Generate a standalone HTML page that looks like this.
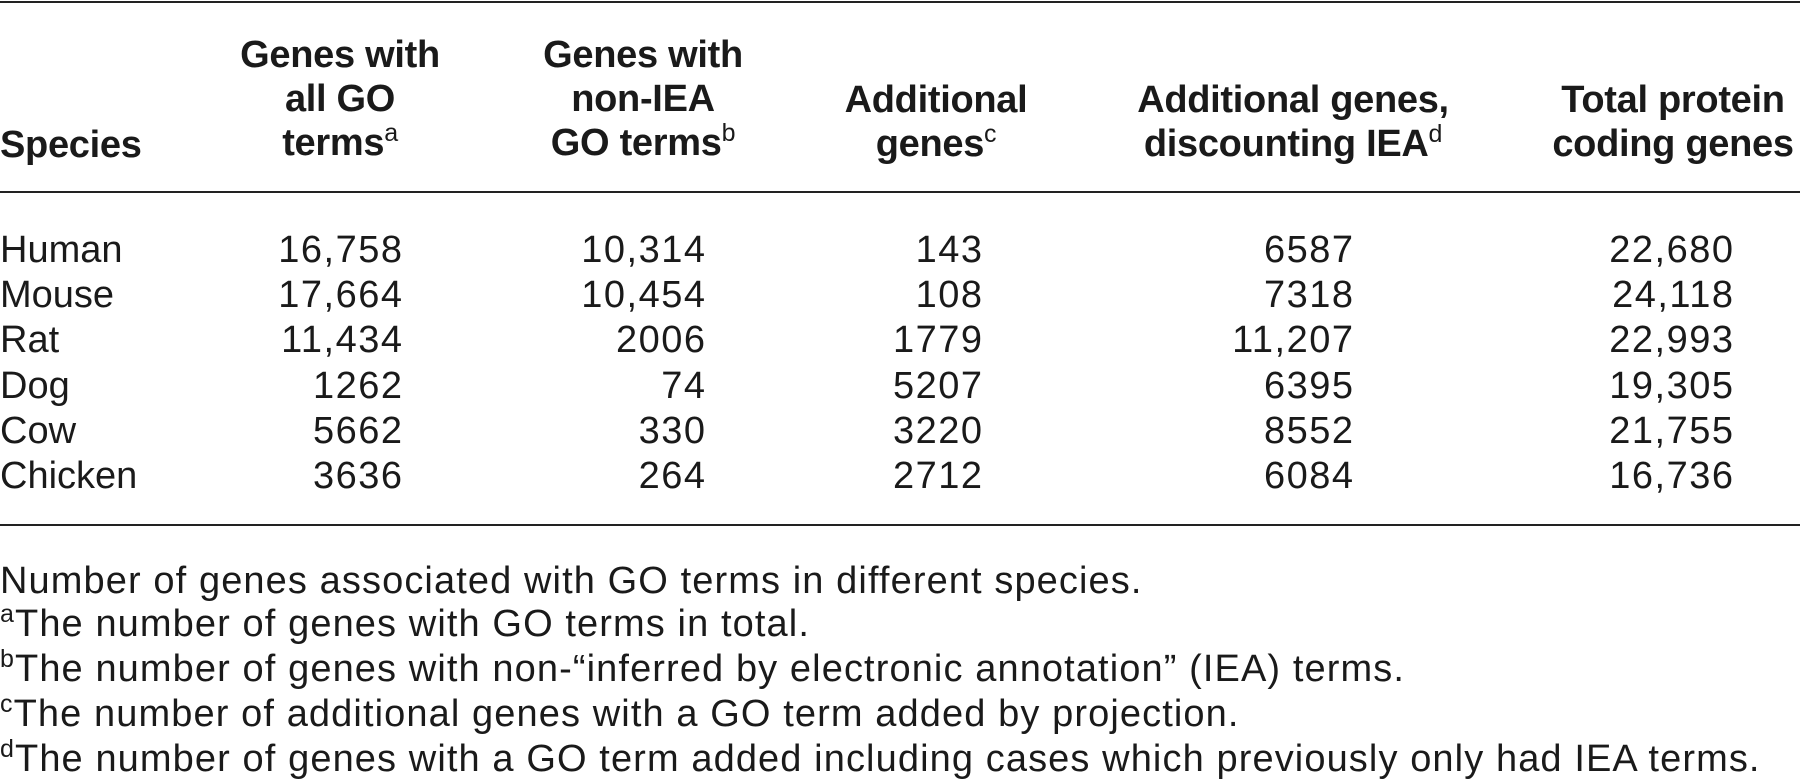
<!DOCTYPE html>
<html><head><meta charset="utf-8"><style>
html,body{margin:0;padding:0;background:#fff;}
#root{position:relative;width:1800px;height:784px;overflow:hidden;font-family:"Liberation Sans",sans-serif;color:#1a1a1a;}
.t{position:absolute;font-size:38px;line-height:44px;white-space:nowrap;}
.h{font-weight:bold;letter-spacing:-0.3px;}
.c{transform:translateX(-50%);text-align:center;}
.r{transform:translateX(-100%);text-align:right;}
.d{letter-spacing:1.5px;margin-left:1.5px;}
.rule{position:absolute;left:0;width:1800px;height:2px;background:#222;}
sup{font-size:25px;line-height:0;vertical-align:14px;font-weight:normal;}
.f{font-size:38px;letter-spacing:1.1px;}
</style></head><body>
<div id="root">
<div class="rule" style="top:1px"></div>
<div class="rule" style="top:191px"></div>
<div class="rule" style="top:524px"></div>

<div class="t h" style="left:0;top:123px">Species</div>
<div class="t h c" style="left:340px;top:33px">Genes with<br>all GO<br>terms<sup>a</sup></div>
<div class="t h c" style="left:643px;top:33px">Genes with<br>non-IEA<br>GO terms<sup>b</sup></div>
<div class="t h c" style="left:936px;top:78px">Additional<br>genes<sup>c</sup></div>
<div class="t h c" style="left:1293px;top:78px">Additional genes,<br>discounting IEA<sup>d</sup></div>
<div class="t h c" style="left:1673px;top:78px">Total protein<br>coding genes</div>

<div class="t f" style="left:0;top:559px">Number of genes associated with GO terms in different species.</div>
<div class="t f" style="left:0;top:602px"><sup>a</sup>The number of genes with GO terms in total.</div>
<div class="t f" style="left:0;top:647px"><sup>b</sup>The number of genes with non-“inferred by electronic annotation” (IEA) terms.</div>
<div class="t f" style="left:0;top:692px"><sup>c</sup>The number of additional genes with a GO term added by projection.</div>
<div class="t f" style="left:0;top:737px"><sup>d</sup>The number of genes with a GO term added including cases which previously only had IEA terms.</div>
</div>
<script>
const species=["Human","Mouse","Rat","Dog","Cow","Chicken"];
const allGo=["16,758","17,664","11,434","1262","5662","3636"];
const nonIea=["10,314","10,454","2006","74","330","264"];
const additional=["143","108","1779","5207","3220","2712"];
const additionalDisc=["6587","7318","11,207","6395","8552","6084"];
const totalGenes=["22,680","24,118","22,993","19,305","21,755","16,736"];
const root=document.getElementById('root');
const cols=[[allGo,402,'all-go'],[nonIea,705,'non-iea'],[additional,982,'additional'],[additionalDisc,1353,'additional-discounting'],[totalGenes,1733,'total']];
species.forEach((s,i)=>{
  const top=228+i*45.2;
  const d=document.createElement('div');
  d.className='t';d.style.left='0px';d.style.top=top+'px';d.textContent=s;
  
  
  root.appendChild(d);
  cols.forEach(([arr,x,n])=>{
    const e=document.createElement('div');
    e.className='t r d';e.style.left=x+'px';e.style.top=top+'px';e.textContent=arr[i];
    
    
    root.appendChild(e);
  });
});
</script>
</body></html>
